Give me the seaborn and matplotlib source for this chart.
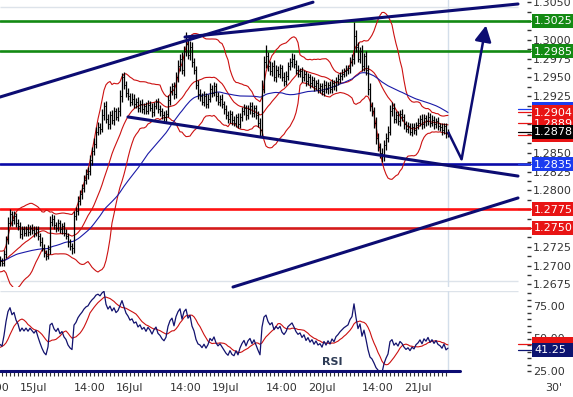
import numpy as np
import pandas as pd
import matplotlib
matplotlib.use("Agg")
import matplotlib.pyplot as plt
import seaborn as sns
from matplotlib.patches import Rectangle
from matplotlib.lines import Line2D
from matplotlib.transforms import IdentityTransform
from matplotlib.ticker import FormatStrFormatter

sns.set_theme(style="white")
plt.rcParams["font.family"] = ["DejaVu Sans"]

# ---------------- data (prices in pips above 1.0000) ----------------
pre_close = [2712, 2708, 2715, 2710, 2703, 2698, 2705, 2712, 2718, 2714,
             2706, 2700, 2695, 2702, 2709, 2715, 2720, 2716, 2710, 2704,
             2699, 2694, 2700, 2707, 2713, 2709, 2703, 2698, 2702, 2708]
close = [2706, 2704, 2715, 2735, 2757, 2768, 2760, 2766, 2757, 2752,
         2742, 2748, 2744, 2749, 2745, 2750, 2747, 2744, 2748, 2740,
         2732, 2724, 2717, 2713, 2722, 2758, 2762, 2754, 2750, 2756,
         2748, 2752, 2744, 2740, 2731, 2726, 2723, 2766, 2773, 2786,
         2795, 2803, 2814, 2822, 2826, 2840, 2852, 2862, 2878, 2884,
         2882, 2900, 2912, 2895, 2888, 2900, 2893, 2905, 2898, 2905,
         2925, 2950, 2940, 2930, 2925, 2918, 2922, 2915, 2918, 2910,
         2915, 2908, 2912, 2906, 2914, 2910, 2904, 2912, 2917, 2908,
         2905, 2900, 2897, 2902, 2920, 2932, 2938, 2928, 2950, 2965,
         2975, 2960, 2985, 2995, 2980, 2990, 2970, 2960, 2940, 2928,
         2925, 2918, 2925, 2915, 2922, 2935, 2930, 2938, 2925, 2918,
         2922, 2915, 2908, 2900, 2895, 2902, 2893, 2890, 2897, 2888,
         2898, 2905, 2910, 2900, 2908, 2912, 2903, 2909, 2900, 2890,
         2880, 2935, 2970, 2978, 2965, 2958, 2965, 2950, 2960, 2955,
         2962, 2950, 2945, 2952, 2965, 2970, 2975, 2968, 2960, 2955,
         2958, 2950, 2955, 2945, 2950, 2942, 2946, 2938, 2943, 2936,
         2938, 2932, 2940, 2934, 2940, 2935, 2942, 2938, 2945, 2948,
         2952, 2955, 2958, 2960, 2962, 2970, 2975, 3005, 2990, 2975,
         2985, 2965, 2978, 2960, 2935, 2912, 2905, 2890, 2870, 2858,
         2850, 2845, 2860, 2870, 2878, 2905, 2910, 2895, 2900, 2892,
         2902, 2897, 2888, 2882, 2885, 2878, 2884, 2880, 2887, 2890,
         2895, 2888, 2896, 2892, 2898, 2890, 2894, 2888, 2892, 2886,
         2884, 2880, 2885, 2876, 2878]
hi_ext = [5, 4, 6, 5, 8, 7, 5, 6, 4, 5,  6, 4, 5, 3, 6, 4, 5, 6, 4, 5,
          4, 6, 5, 4, 6, 8, 6, 5, 4, 6,  5, 4, 6, 5, 4, 5, 4, 6, 5, 7,
          6, 5, 7, 6, 5, 7, 6, 8, 6, 7,  6, 8, 5, 7, 6, 5, 7, 6, 5, 6,
          8, 6, 7, 5, 6, 5, 7, 6, 5, 6,  5, 6, 4, 5, 6, 5, 6, 5, 4, 6,
          5, 4, 6, 5, 7, 6, 5, 6, 7, 8,  6, 9, 7, 15, 6, 8, 7, 6, 5, 7,
          6, 5, 7, 5, 6, 7, 5, 6, 5, 6,  5, 6, 4, 5, 6, 5, 4, 6, 5, 6,
          5, 6, 5, 4, 6, 5, 6, 5, 4, 5,  6, 12, 8, 15, 6, 7, 6, 8, 6, 5,
          6, 5, 7, 6, 5, 6, 8, 6, 5, 6,  5, 6, 5, 4, 6, 5, 6, 5, 4, 5,
          5, 4, 6, 5, 4, 5, 6, 4, 5, 6,  5, 6, 5, 6, 5, 7, 6, 19, 8, 7,
          6, 8, 5, 7, 6, 8, 5, 6, 7, 6,  5, 6, 7, 6, 8, 8, 7, 6, 5, 6,
          5, 6, 5, 4, 6, 5, 6, 5, 4, 6,  5, 6, 5, 4, 6, 5, 6, 5, 4, 5,
          4, 5, 4, 5, 4]
lo_ext = [6, 5, 4, 5, 6, 5, 7, 5, 6, 5,  5, 6, 4, 5, 6, 4, 5, 6, 5, 6,
          6, 5, 6, 5, 4, 7, 5, 6, 5, 4,  5, 6, 4, 5, 6, 5, 8, 6, 5, 6,
          5, 6, 5, 6, 7, 5, 6, 5, 6, 5,  7, 5, 6, 5, 6, 7, 5, 6, 5, 6,
          6, 7, 5, 6, 5, 6, 5, 6, 5, 6,  6, 5, 6, 5, 4, 5, 6, 5, 4, 5,
          6, 5, 8, 6, 5, 6, 5, 6, 5, 6,  7, 6, 8, 7, 6, 7, 6, 5, 6, 7,
          6, 5, 6, 5, 6, 5, 6, 5, 6, 5,  6, 5, 6, 5, 6, 5, 6, 5, 6, 5,
          5, 6, 5, 6, 5, 6, 5, 6, 5, 6,  9, 8, 6, 7, 6, 5, 6, 5, 6, 5,
          6, 5, 6, 5, 6, 5, 6, 5, 6, 5,  5, 6, 5, 6, 5, 6, 5, 6, 5, 6,
          6, 5, 6, 5, 6, 5, 6, 5, 6, 5,  5, 6, 5, 6, 5, 6, 5, 7, 6, 5,
          6, 7, 6, 7, 8, 7, 6, 7, 8, 6,  7, 7, 6, 7, 6, 5, 6, 5, 6, 5,
          6, 5, 6, 5, 6, 5, 6, 5, 6, 5,  5, 6, 5, 6, 5, 6, 5, 6, 5, 6,
          5, 6, 5, 6, 5]

green_levels = [1.3025, 1.2985]
blue_levels = [1.2835]
red_levels = [1.2775, 1.2750]
trend_lines = [[(0, 1.2924), (156.5, 1.3050)],
               [(92.5, 1.30037), (259, 1.30476)],
               [(64, 1.28975), (259, 1.2819)],
               [(116.5, 1.26716), (259, 1.27899)]]
arrow_path = [(224, 1.2878), (230.8, 1.28413), (243, 1.3019)]
x_label_pos = [-3, 17, 45, 65, 93, 113, 141, 161, 189, 209]
x_labels = ["14:00", "15Jul", "14:00", "16Jul", "14:00", "19Jul",
            "14:00", "20Jul", "14:00", "21Jul"]
price_boxes = [(1.2874, "", "#e81414"), (1.2908, "", "#1a3cf0"),
               (1.2889, "1.2889", "#e81414"), (1.2904, "1.2904", "#e81414"),
               (1.2878, "1.2878", "#000000")]
level_boxes = [(1.3025, "1.3025", "#138a13"), (1.2985, "1.2985", "#138a13"),
               (1.2835, "1.2835", "#1a3cf0"), (1.2775, "1.2775", "#e81414"),
               (1.2750, "1.2750", "#e81414")]
rsi_boxes = [(45.5, "", "#e81414"), (41.25, "41.25", "#0c1470")]

assert len(close) == len(hi_ext) == len(lo_ext) == 225

# ---------------- derived series ----------------
full = pd.Series(pre_close + close, dtype=float) / 10000 + 1.0
npre = len(pre_close)
xs_full = np.arange(len(full)) - npre
mid = full.rolling(20, min_periods=1).mean()
sd = full.rolling(20, min_periods=1).std(ddof=0)
upper = mid + 2 * sd
lower = mid - 2 * sd
ma50 = full.rolling(50, min_periods=1).mean()
d = full.diff()
gain = d.clip(lower=0).ewm(alpha=1 / 14, adjust=False).mean()
loss = (-d.clip(upper=0)).ewm(alpha=1 / 14, adjust=False).mean()
rsi = 100 - 100 / (1 + gain / loss)
sig = rsi.rolling(9, min_periods=1).mean()

c = np.array(close) / 10000 + 1.0
o = np.concatenate([[pre_close[-1] / 10000 + 1.0], c[:-1]])
hi = np.maximum(o, c) + np.array(hi_ext) / 10000
lo = np.minimum(o, c) - np.array(lo_ext) / 10000
xb = np.arange(len(c))

df = pd.DataFrame({"x": xs_full, "mid": mid, "up": upper, "lo": lower,
                   "ma": ma50, "rsi": rsi, "sig": sig})
df = df[df.x >= 0]

# ---------------- figure layout ----------------
W, H, DPI = 573, 397, 100
fig = plt.figure(figsize=(W / DPI, H / DPI), dpi=DPI)
fig.patch.set_facecolor("white")
AXW = 531
XMAX = AXW / 2.0


def price_at(ypx):
    return 1.3025 - (ypx - 21) / 7527.0


ax = fig.add_axes([0, (H - 287) / H, AXW / W, 287 / H])
ax.set_xlim(0, XMAX)
ax.set_ylim(price_at(287), price_at(0))
ax2 = fig.add_axes([0, (H - 371) / H, AXW / W, 80 / H])
ax2.set_xlim(0, XMAX)
ax2.set_ylim(25, 25 + 80 / 1.3)
for a in (ax, ax2):
    a.set_facecolor("white")
    for s in a.spines.values():
        s.set_visible(False)

navy = "#0c0c72"
grid_c = "#dde3ea"
# frame gridlines
ax.hlines([price_at(7), price_at(281)], 0, 259, color=grid_c, lw=1, zorder=0)
ax.axvline(224, color="#d3deea", lw=1, zorder=0)
ax2.hlines([25 + 80 / 1.3], 0, 259, color=grid_c, lw=1, zorder=0)
ax2.axvline(224, color="#d3deea", lw=1, zorder=0)

# horizontal levels
for p in green_levels:
    ax.axhline(p, color="#138a13", lw=1.9, zorder=2)
for p in blue_levels:
    ax.axhline(p, color="#0a0aa8", lw=1.9, zorder=2)
ax.axhline(red_levels[0], color="#ff1212", lw=1.9, zorder=2)
ax.axhline(red_levels[1], color="#d41a1a", lw=1.9, zorder=2)

# indicators
sns.lineplot(data=df, x="x", y="up", ax=ax, color="#cc1111", lw=0.8, zorder=3)
sns.lineplot(data=df, x="x", y="mid", ax=ax, color="#cc1111", lw=0.8, zorder=3)
sns.lineplot(data=df, x="x", y="lo", ax=ax, color="#cc1111", lw=0.8, zorder=3)
sns.lineplot(data=df, x="x", y="ma", ax=ax, color="#1a1aa8", lw=0.8, zorder=3)

# OHLC bars
ax.vlines(xb, lo, hi, color="black", lw=0.9, zorder=4)
ax.hlines(o, xb - 0.5, xb, color="black", lw=0.7, zorder=4)
ax.hlines(c, xb, xb + 0.5, color="black", lw=0.7, zorder=4)

# trend lines
for seg in trend_lines:
    (x0, y0), (x1, y1) = seg
    sns.lineplot(x=[x0, x1], y=[y0, y1], ax=ax, color=navy, lw=2.2,
                 zorder=5, clip_on=False)
ax.plot([arrow_path[0][0], arrow_path[1][0]], [arrow_path[0][1], arrow_path[1][1]],
        color=navy, lw=1.8, zorder=5, solid_capstyle="butt")
ax.annotate("", xy=arrow_path[2], xytext=arrow_path[1],
            arrowprops=dict(arrowstyle="-|>,head_length=0.8,head_width=0.42",
                            color=navy, lw=1.8, mutation_scale=12,
                            shrinkA=0, shrinkB=0), zorder=5)

# price axis ticks
ax.yaxis.tick_right()
ax.set_yticks(np.round(np.arange(1.2675, 1.30501, 0.0025), 4))
ax.set_yticks(np.round(np.arange(1.2675, 1.30501, 0.00125), 5), minor=True)
ax.yaxis.set_major_formatter(FormatStrFormatter("%.4f"))
ax.tick_params(axis="y", which="both", direction="in", length=2.9, width=1,
               color="#333333", pad=1.4, labelsize=8, labelcolor="#333333",
               right=True, left=False)
ax.set_xticks([])
ax.set_xlabel("")
ax.set_ylabel("")

# RSI panel
sns.lineplot(data=df, x="x", y="sig", ax=ax2, color="#cc1111", lw=0.8, zorder=3)
sns.lineplot(data=df, x="x", y="rsi", ax=ax2, color="#12126e", lw=0.9, zorder=4)
ax2.plot([0, 230], [25, 25], color=navy, lw=2.2, zorder=5, clip_on=False)
ax2.yaxis.tick_right()
ax2.set_yticks([25, 50, 75])
ax2.set_yticks(np.arange(25, 86, 5), minor=True)
ax2.yaxis.set_major_formatter(FormatStrFormatter("%.2f"))
ax2.tick_params(axis="y", which="both", direction="in", length=2.9, width=1,
                color="#333333", pad=1.4, labelsize=8, labelcolor="#333333",
                right=True, left=False)
ax2.set_xticks(x_label_pos[1:])
ax2.set_xticklabels(x_labels[1:])
ax2.set_xticks(np.arange(1, 225, 2), minor=True)
ax2.tick_params(axis="x", which="both", direction="out", length=3.6, width=0.8,
                color="#333333", pad=5.2, labelsize=8, labelcolor="#333333",
                bottom=True)
ax2.text(x_label_pos[0], -0.21, x_labels[0], transform=ax2.get_xaxis_transform(),
         ha="center", va="center", fontsize=8, color="#333333", clip_on=False)
ax2.text(166, 32, "RSI", ha="center", va="center", fontsize=8,
         fontweight="bold", color="#2d3b55", zorder=6)
ax2.set_xlabel("")
ax2.set_ylabel("")
fig.text(545 / W, 1 - 388 / H, "30'", ha="left", va="center", fontsize=8,
         color="#333333")

fig.canvas.draw()


def box(axis, value, text, color, z):
    yd = axis.transData.transform((0, value))[1]
    fig.add_artist(Rectangle((532, yd - 7), 41, 14, transform=IdentityTransform(),
                             facecolor=color, edgecolor="none", zorder=z))
    fig.add_artist(Line2D([518, 531], [yd, yd], transform=IdentityTransform(),
                          color=color, lw=0.9, zorder=z))
    if text:
        fig.text(534, yd - 0.5, text, transform=IdentityTransform(), ha="left",
                 va="center", fontsize=8, color="white", zorder=z + 0.5)


z = 10
for v, t, col in level_boxes + price_boxes:
    box(ax, v, t, col, z)
    z += 1
for v, t, col in rsi_boxes:
    box(ax2, v, t, col, z)
    z += 1

fig.savefig("out.png", dpi=DPI)
